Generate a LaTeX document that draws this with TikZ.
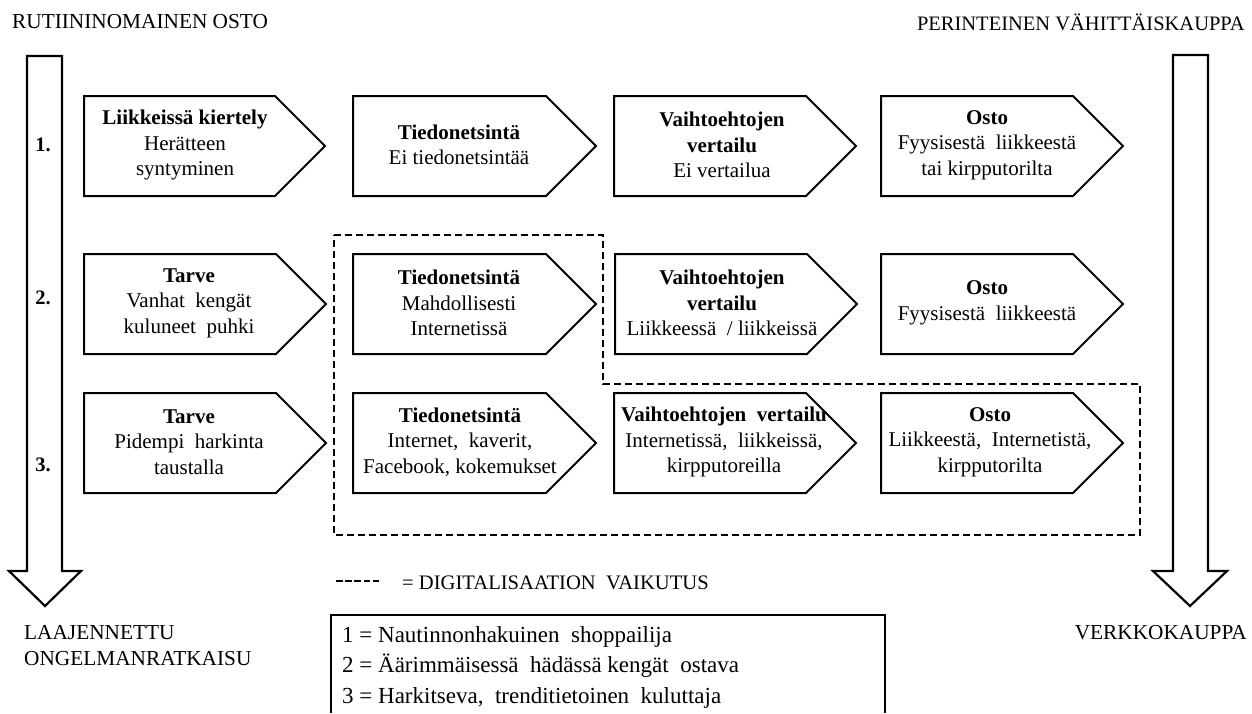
\documentclass[tikz,border=0pt]{standalone}
\usepackage{fontspec}
\setmainfont{Liberation Serif}
\tikzset{
  boxline/.style={draw=black, line width=2pt, line join=miter, fill=white},
  boxtext/.style={align=center, inner sep=0pt, font=\fontsize{21}{25.5}\selectfont},
  bigarrow/.style={draw=black, line width=2.2pt, line join=miter},
  dashline/.style={draw=black, line width=2pt, dash pattern=on 7pt off 4pt},
  label/.style={inner sep=0pt, font=\fontsize{21.3}{26}\selectfont},
  rownum/.style={inner sep=0pt, font=\bfseries\fontsize{20.5}{25}\selectfont}
}
% name, left x, top y, body width, text x offset, text
\newcommand\chev[6]{%
  \draw[boxline] (#2,#3) -- ++(#4,0) -- ++(50,50) -- ++(-50,50) -- ++(-#4,0) -- cycle;
  \node[boxtext] (#1) at (#2+#5,#3+49) {#6};
}
\newcommand\dsh{\rule[0.28em]{6.5pt}{2.2pt}\hspace{2.6pt}}
\begin{document}
\begin{tikzpicture}[x=1pt,y=-1pt]
\useasboundingbox (0,0) rectangle (1252,713);

% titles
\node[label, anchor=west] (tl) at (12,22) {RUTIININOMAINEN OSTO};
\node[label, anchor=east, font=\fontsize{20.5}{26}\selectfont] (tr) at (1245,22) {PERINTEINEN VÄHITTÄISKAUPPA};
\node[label, anchor=north west, align=left] (bl) at (24,625) {LAAJENNETTU\\ONGELMANRATKAISU};
\node[label, anchor=north east] (br) at (1247,625) {VERKKOKAUPPA};

% big arrows
\draw[bigarrow] (27,56) -- (62,56) -- (62,571) -- (81,571) -- (45,606) -- (9,571) -- (27,571) -- cycle;
\draw[bigarrow] (1173,55) -- (1208,55) -- (1208,571) -- (1227,571) -- (1190,606) -- (1153,571) -- (1173,571) -- cycle;

% row numbers
\node[rownum] (n1) at (43,145) {1.};
\node[rownum] (n2) at (43,298) {2.};
\node[rownum] (n3) at (43,465) {3.};

% dashed region
\draw[dashline] (334,235) -- (603,235) -- (603,384) -- (1140,384) -- (1140,535) -- (334,535) -- cycle;

% row 1
\chev{a1}{84}{96}{191}{101}{\textbf{Liikkeissä kiertely}\\Herätteen\\syntyminen}
\chev{b1}{353}{96}{193}{106}{\textbf{Tiedonetsintä}\\Ei tiedonetsintää}
\chev{c1}{614}{96}{192}{108}{\textbf{Vaihtoehtojen}\\\textbf{vertailu}\\Ei vertailua}
\chev{d1}{881}{96}{192}{106}{\textbf{Osto}\\Fyysisestä\ \ liikkeestä\\tai kirpputorilta}

% row 2
\chev{a2}{84}{254}{192}{105}{\textbf{Tarve}\\Vanhat\ \ kengät\\kuluneet\ \ puhki}
\chev{b2}{353}{254}{193}{106}{\textbf{Tiedonetsintä}\\Mahdollisesti\\Internetissä}
\chev{c2}{615}{254}{192}{107}{\textbf{Vaihtoehtojen}\\\textbf{vertailu}\\Liikkeessä\ \ / liikkeissä}
\chev{d2}{881}{254}{192}{106}{\textbf{Osto}\\Fyysisestä\ \ liikkeestä}

% row 3
\chev{a3}{84}{393}{192}{105}{\textbf{Tarve}\\Pidempi\ \ harkinta\\taustalla}
\chev{b3}{353}{393}{193}{107}{\textbf{Tiedonetsintä}\\Internet,\ \ kaverit,\\Facebook, kokemukset}
\chev{c3}{614}{393}{192}{110}{\textbf{Vaihtoehtojen\ \ vertailu}\\Internetissä,\ \ liikkeissä,\\kirpputoreilla}
\chev{d3}{881}{393}{192}{109}{\textbf{Osto}\\Liikkeestä,\ \ Internetistä,\\kirpputorilta}

% legend
\node[label, anchor=west] (dd) at (336,584) {\dsh\dsh\dsh\dsh\dsh};
\node[label, anchor=west, font=\fontsize{20.6}{26}\selectfont] (dl) at (402,583) {= DIGITALISAATION\ \ VAIKUTUS};
\draw[line width=1.5pt] (331,713) -- (331,615) -- (885,615) -- (885,713);
\node[anchor=north west, align=left, inner sep=0pt, font=\fontsize{23}{30.5}\selectfont] (lg) at (342,626)
  {1 = Nautinnonhakuinen\ \ shoppailija\\2 = Äärimmäisessä\ \ hädässä kengät\ \ ostava\\3 = Harkitseva,\ \ trenditietoinen\ \ kuluttaja};
\end{tikzpicture}
\end{document}
